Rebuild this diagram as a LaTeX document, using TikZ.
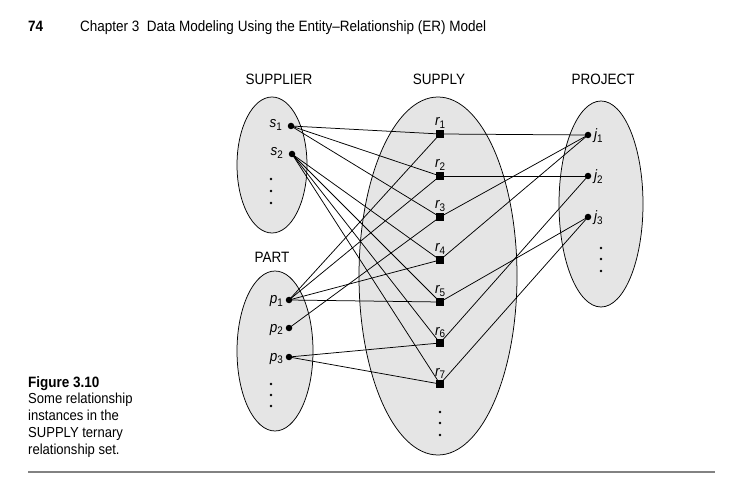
\documentclass[tikz,border=0pt]{standalone}
\usepackage{fontspec}
\setmainfont{Liberation Sans}
\newfontfamily\cf[FakeStretch=0.9]{Liberation Sans}
\usetikzlibrary{shapes.geometric}
\definecolor{ellfill}{RGB}{229,229,229}
\definecolor{rulegray}{RGB}{130,130,130}
\newcommand{\lbl}[2]{{\cf\fontsize{15}{15}\selectfont\itshape #1}{\cf\fontsize{11}{11}\selectfont\raisebox{-2.8pt}{#2}}}
\begin{document}
\begin{tikzpicture}[x=1pt,y=-1pt,
  setell/.style={draw=black, line width=0.75pt, fill=ellfill, ellipse, inner sep=0pt},
  ent/.style={circle, fill=black, inner sep=0pt, minimum size=6.5pt},
  rel/.style={rectangle, fill=black, inner sep=0pt, minimum size=7.5pt},
  link/.style={line width=0.75pt},
  tdot/.style={circle, fill=black, inner sep=0pt, minimum size=2.8pt},
  settitle/.style={font=\cf\fontsize{15}{15}\selectfont, inner sep=0pt, anchor=base},
  lab/.style={inner sep=0pt},
  captxt/.style={font=\cf\fontsize{14.5}{14.5}\selectfont, inner sep=0pt, anchor=base west},
  head/.style={font=\cf\fontsize{15}{15}\selectfont, inner sep=0pt, anchor=base west}]
\useasboundingbox (0,0) rectangle (744,478);

% header
\node[head, font=\cf\bfseries\fontsize{15}{15}\selectfont] (pg) at (28,32) {74};
\node[head] (chap) at (80,32) {Chapter 3\ \ Data Modeling Using the Entity–Relationship (ER) Model};

% set ellipses
\node[setell, minimum width=70pt, minimum height=136pt] (Esup) at (272,165) {};
\node[setell, minimum width=76pt, minimum height=160pt] (Epart) at (275,351) {};
\node[setell, minimum width=158pt, minimum height=358pt] (Esupply) at (438,276) {};
\node[setell, minimum width=84pt, minimum height=206pt] (Eproj) at (601,204) {};

% set titles
\node[settitle] (Tsup) at (279,85) {SUPPLIER};
\node[settitle] (Tsupply) at (439,85) {SUPPLY};
\node[settitle] (Tproj) at (603,85) {PROJECT};
\node[settitle] (Tpart) at (272,263) {PART};

% entities
\node[ent] (s1) at (291,126) {};
\node[ent] (s2) at (292,154) {};
\node[ent] (p1) at (289,300) {};
\node[ent] (p2) at (289,328) {};
\node[ent] (p3) at (289,357) {};
\node[ent] (j1) at (588,135) {};
\node[ent] (j2) at (588,176) {};
\node[ent] (j3) at (588,217) {};
\node[rel] (r1) at (440,134) {};
\node[rel] (r2) at (440,176) {};
\node[rel] (r3) at (440,217) {};
\node[rel] (r4) at (440,260) {};
\node[rel] (r5) at (440,302) {};
\node[rel] (r6) at (440,343) {};
\node[rel] (r7) at (440,384) {};

% labels
\node[lab, anchor=base east] (ls1) at (282,128) {\lbl{s}{1}};
\node[lab, anchor=base east] (ls2) at (283,156) {\lbl{s}{2}};
\node[lab, anchor=base east] (lp1) at (283,304) {\lbl{p}{1}};
\node[lab, anchor=base east] (lp2) at (283,332) {\lbl{p}{2}};
\node[lab, anchor=base east] (lp3) at (283,361) {\lbl{p}{3}};
\node[lab, anchor=base west] (lj1) at (594,140) {\lbl{j}{1}};
\node[lab, anchor=base west] (lj2) at (594,181) {\lbl{j}{2}};
\node[lab, anchor=base west] (lj3) at (594,222) {\lbl{j}{3}};
\foreach \i/\y in {1/134,2/176,3/217,4/260,5/302,6/343,7/384}{
  \node[lab, anchor=base west] (lr\i) at (435,\y-8) {\lbl{r}{\i}};
}

% vertical ellipsis dots
\foreach \y [count=\k] in {179,191,203}{\node[tdot] (ds\k) at (271,\y) {};}
\foreach \y [count=\k] in {384,395,406}{\node[tdot] (dp\k) at (271,\y) {};}
\foreach \y [count=\k] in {412,423,435}{\node[tdot] (dr\k) at (440,\y) {};}
\foreach \y [count=\k] in {248,259,271}{\node[tdot] (dj\k) at (601,\y) {};}

% relationship instances
\foreach \r/\s/\p/\j in {r1/s1/p1/j1, r2/s1/p1/j2, r3/s1/p2/j1, r4/s2/p1/j1, r5/s2/p1/j3, r6/s2/p3/j2, r7/s2/p3/j3}{
  \draw[link] (\s.center) -- (\r.center);
  \draw[link] (\p.center) -- (\r.center);
  \draw[link] (\r.center) -- (\j.center);
}

% caption
\node[captxt, font=\cf\bfseries\fontsize{15}{15}\selectfont] (cap0) at (28,387) {Figure 3.10};
\node[captxt] (cap1) at (28,403.5) {Some relationship};
\node[captxt] (cap2) at (28,420) {instances in the};
\node[captxt] (cap3) at (28,437) {SUPPLY ternary};
\node[captxt] (cap4) at (28,454) {relationship set.};

% bottom rule
\coordinate (ruleL) at (28,472);
\coordinate (ruleR) at (715,472);
\draw[rulegray, line width=1.4pt] (ruleL) -- (ruleR);
\end{tikzpicture}
\end{document}
